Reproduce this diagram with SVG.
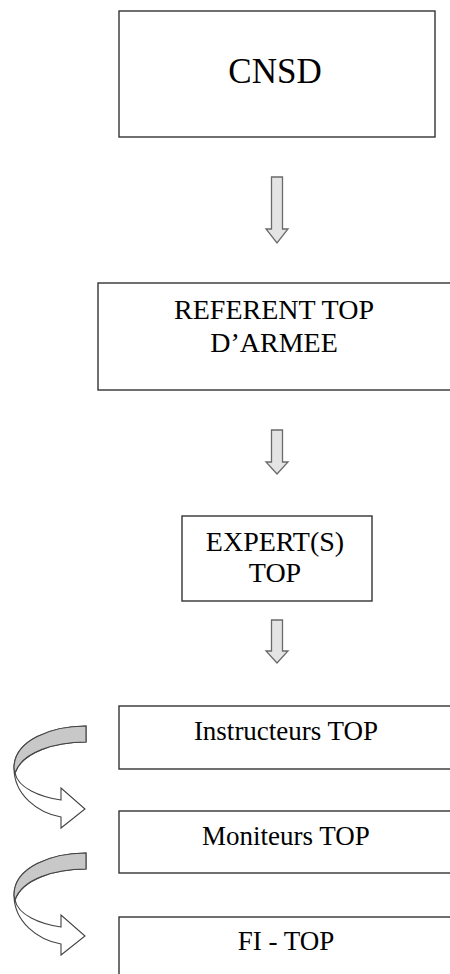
<svg xmlns="http://www.w3.org/2000/svg" width="450" height="974" viewBox="0 0 450 974">
<style>
.box{fill:#fff;stroke:#333;stroke-width:1.4}
.t{font-family:"Liberation Serif","Times New Roman",serif;fill:#000;text-anchor:middle}
.da{fill:#e4e4e4;stroke:#6a6a6a;stroke-width:1.3;stroke-linejoin:miter}
.ca{fill:#fff;stroke:#444;stroke-width:1.1}
.cg{fill:#c8c8c8;stroke:#444;stroke-width:1.1}
</style>
<rect width="450" height="974" fill="#fff"/>
<g id="cnsd"><rect class="box" x="119" y="11" width="316" height="126"/><text class="t" x="275" y="83" font-size="35">CNSD</text></g>
<g id="referent"><rect class="box" x="98" y="283" width="400" height="107"/><text class="t" x="274" y="319" font-size="28">REFERENT TOP</text><text class="t" x="274" y="352" font-size="28">D’ARMEE</text></g>
<g id="expert"><rect class="box" x="182" y="516" width="190" height="85"/><text class="t" x="275" y="551" font-size="28">EXPERT(S)</text><text class="t" x="275" y="582" font-size="28">TOP</text></g>
<g id="instructeurs"><rect class="box" x="119" y="706" width="400" height="63"/><text class="t" x="286" y="740" font-size="27">Instructeurs TOP</text></g>
<g id="moniteurs"><rect class="box" x="119" y="811" width="400" height="62"/><text class="t" x="286" y="845" font-size="27">Moniteurs TOP</text></g>
<g id="fi"><rect class="box" x="119" y="917" width="400" height="100"/><text class="t" x="286" y="950" font-size="27">FI - TOP</text></g>
<g id="connectors">
<path class="da" d="M271.5,177 H282.5 V229 H288 L277,243 L266,229 H271.5 Z"/>
<path class="da" d="M271.5,430 H282.5 V462 H288 L277,474 L266,462 H271.5 Z"/>
<path class="da" d="M271.5,620 H282.5 V651 H288 L277,663 L266,651 H271.5 Z"/>
<g id="curve1">
<path class="ca" d="M86,726 C52,726 14,740 14,768 C14,795 38,813 61,817 L61,828 L85,809 L61,788 L61,800 C40,797 18,788 15,773 C22,752 55,742 86,742 Z"/>
<path class="cg" d="M86,726 C52,726 14,740 14,768 L15,773 C22,752 55,742 86,742 Z"/>
</g>
<g id="curve2" transform="translate(0,127)">
<path class="ca" d="M86,726 C52,726 14,740 14,768 C14,795 38,813 61,817 L61,828 L85,809 L61,788 L61,800 C40,797 18,788 15,773 C22,752 55,742 86,742 Z"/>
<path class="cg" d="M86,726 C52,726 14,740 14,768 L15,773 C22,752 55,742 86,742 Z"/>
</g>
</g>
</svg>
